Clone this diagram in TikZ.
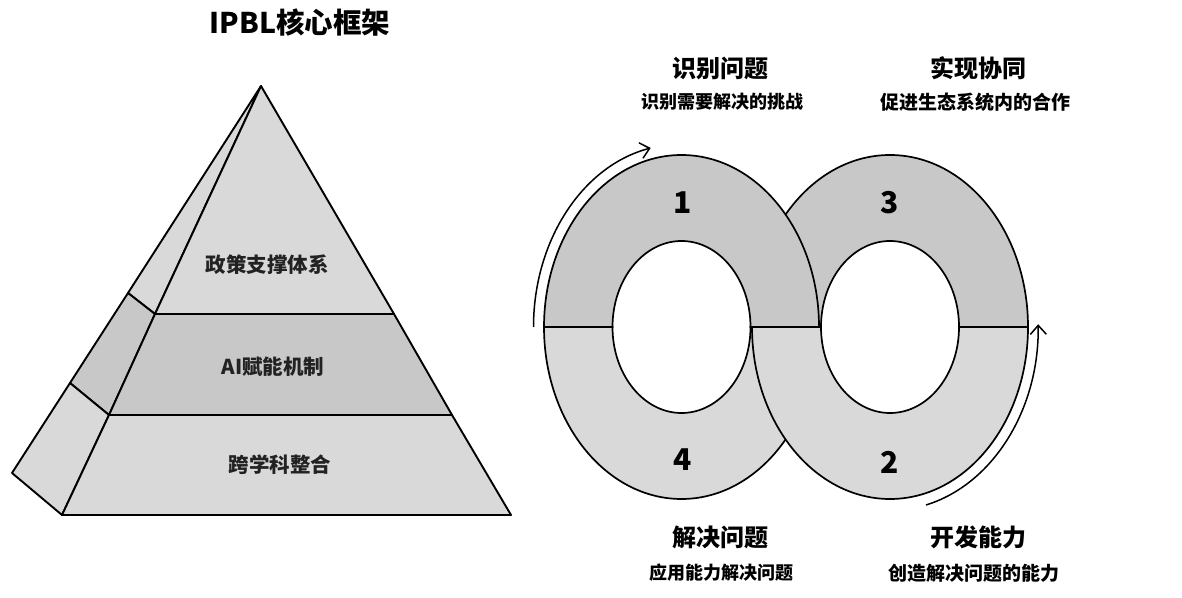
\documentclass[tikz,border=0pt]{standalone}
\usepackage{fontspec}
\setmainfont{Noto Sans CJK SC}
\newfontfamily\cjk{Noto Sans CJK SC}
\usetikzlibrary{arrows.meta}
\definecolor{lightg}{HTML}{D9D9D9}
\definecolor{darkg}{HTML}{C8C8C8}
\definecolor{txt}{HTML}{222222}
\tikzset{
  face/.style={draw=black, line width=1.9pt, line join=round},
  ringpart/.style={draw=black, line width=1.7pt},
  cyclearrow/.style={line width=1.5pt, -{Straight Barb[length=9pt,width=16pt,line width=1.5pt]}},
  pyrlabel/.style={font=\cjk\bfseries\fontsize{20.5}{22}\selectfont, text=txt},
  numlabel/.style={font=\cjk\bfseries\fontsize{30}{32}\selectfont, text=black},
  headlabel/.style={font=\cjk\bfseries\fontsize{24}{26}\selectfont, text=black},
  sublabel/.style={font=\cjk\bfseries\fontsize{18}{20}\selectfont, text=black},
  sublabelw/.style={font=\cjk\bfseries\fontsize{19}{21}\selectfont, text=black},
  titlelabel/.style={font=\cjk\bfseries\fontsize{28.5}{30}\selectfont, text=black}
}
\begin{document}
\begin{tikzpicture}[x=1pt,y=1pt]
\useasboundingbox (0,0) rectangle (1182,597);
\fill[white] (0,0) rectangle (1182,597);

% title
\node[titlelabel] (title) at (300,574) {IPBL核心框架};

% pyramid points
\coordinate (apex) at (261,511);
\coordinate (ftl) at (155,283);
\coordinate (ftr) at (394,283);
\coordinate (fml) at (109,182);
\coordinate (fmr) at (452,182);
\coordinate (fbl) at (62,82);
\coordinate (fbr) at (511,82);
\coordinate (s1) at (128,304);
\coordinate (s2) at (70,214);
\coordinate (s3) at (12,124);

% side faces
\path[face, fill=lightg] (apex) -- (ftl) -- (s1) -- cycle;
\path[face, fill=darkg] (s1) -- (ftl) -- (fml) -- (s2) -- cycle;
\path[face, fill=lightg] (s2) -- (fml) -- (fbl) -- (s3) -- cycle;
% front faces
\path[face, fill=lightg] (apex) -- (ftr) -- (ftl) -- cycle;
\path[face, fill=darkg] (ftl) -- (ftr) -- (fmr) -- (fml) -- cycle;
\path[face, fill=lightg] (fml) -- (fmr) -- (fbr) -- (fbl) -- cycle;

\node[pyrlabel] (p1) at (267,332) {政策支撑体系};
\node[pyrlabel] (p2) at (273,230) {AI赋能机制};
\node[pyrlabel] (p3) at (280,132) {跨学科整合};

% rings
% left ring bottom half
\path[ringpart, fill=lightg] (544,270) arc[start angle=180, end angle=360, x radius=137.5, y radius=172]
  -- (750.5,270) arc[start angle=360, end angle=180, x radius=69, y radius=86] -- cycle;
% right ring top half
\path[ringpart, fill=darkg] (752,270) arc[start angle=180, end angle=0, x radius=138, y radius=172]
  -- (959,270) arc[start angle=0, end angle=180, x radius=69, y radius=86] -- cycle;
% left ring top half
\path[ringpart, fill=darkg] (544,270) arc[start angle=180, end angle=0, x radius=137.5, y radius=172]
  -- (750.5,270) arc[start angle=0, end angle=180, x radius=69, y radius=86] -- cycle;
% right ring bottom half
\path[ringpart, fill=lightg] (752,270) arc[start angle=180, end angle=360, x radius=138, y radius=172]
  -- (959,270) arc[start angle=360, end angle=180, x radius=69, y radius=86] -- cycle;

\node[numlabel] (n1) at (683,394) {1};
\node[numlabel] (n3) at (890,394) {3};
\node[numlabel] (n4) at (683,137) {4};
\node[numlabel] (n2) at (890,135) {2};

% cycle arrows
\coordinate (la) at (533.5,270);
\coordinate (ra) at (926,92);
\draw[cyclearrow] (la) arc[start angle=180, end angle=102, x radius=148, y radius=183];
\draw[cyclearrow] (ra) arc[start angle=-76, end angle=1, x radius=148, y radius=183];

% labels
\node[headlabel] (h1) at (720,529) {识别问题};
\node[sublabel] (d1) at (722,495) {识别需要解决的挑战};
\node[headlabel] (h3) at (978,529) {实现协同};
\node[sublabelw] (d3) at (975,495) {促进生态系统内的合作};
\node[headlabel] (h4) at (720,60) {解决问题};
\node[sublabel] (d4) at (721,24) {应用能力解决问题};
\node[headlabel] (h2) at (978,60) {开发能力};
\node[sublabelw] (d2) at (974,24) {创造解决问题的能力};
\end{tikzpicture}
\end{document}
